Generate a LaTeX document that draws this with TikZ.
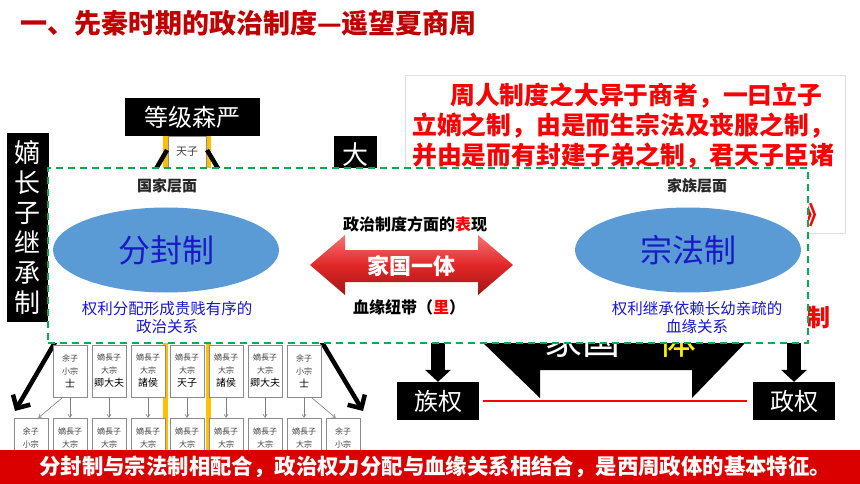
\documentclass[tikz,border=0pt]{standalone}
\usepackage{fontspec}
\setmainfont{Noto Sans CJK SC}
\usepackage{tikz}
\usetikzlibrary{positioning, arrows.meta, shapes.geometric}

\definecolor{titlered}{RGB}{192,0,0}
\definecolor{quotered}{RGB}{250,0,0}
\definecolor{bannerred}{RGB}{218,0,0}
\definecolor{ellblue}{RGB}{91,155,213}
\definecolor{textblue}{RGB}{25,25,200}
\definecolor{framegreen}{RGB}{0,176,80}
\definecolor{pyrgold}{RGB}{255,192,0}
\definecolor{arrowtop}{RGB}{245,115,115}
\definecolor{arrowmid}{RGB}{225,40,40}
\definecolor{arrowbot}{RGB}{165,20,20}

\newcommand{\fsz}[2]{\fontsize{#1pt}{#2pt}\selectfont}

\begin{document}
\begin{tikzpicture}[x=1pt, y=-1pt,
    blackbox/.style={fill=black, text=white, inner sep=0pt},
    smallbox/.style={draw=black!45, fill=white, text=black!75, inner sep=0pt, minimum width=34pt, align=center},
    toprow/.style={smallbox, minimum height=52pt, font=\fsz{8}{13}},
    lowrow/.style={smallbox, minimum height=40pt, font=\fsz{8}{13}},
    thinarrow/.style={-{Straight Barb[length=3pt, width=4pt]}, draw=black!50, line width=0.6pt},
    pyrarrow/.style={-{Straight Barb[length=10pt, width=20pt]}, line width=4.5pt},
    downarrow/.style={-{Triangle[length=12pt, width=26pt, line width=0pt]}, line width=14pt},
    quotetext/.style={anchor=west, text=quotered, font=\fsz{24.8}{24.8}\bfseries, inner sep=0pt},
    levelname/.style={font=\fsz{15}{15}\bfseries, text=black!85},
    desc/.style={font=\fsz{15.5}{18}, text=textblue, align=center},
    system/.style={ellipse, fill=ellblue, minimum width=226pt, minimum height=85pt, text=textblue, font=\fsz{32}{32}}
]
    \useasboundingbox (0,0) rectangle (860,484);
    \fill[white] (0,0) rectangle (860,484);

    % === Title ===
    \node[anchor=west, text=titlered, inner sep=0pt] (title) at (20,23) {\fontsize{27pt}{28pt}\selectfont\bfseries 一、先秦时期的政治制度—遥望夏商周};

    % === Quote (right) ===
    \node[draw=black!12, line width=0.8pt, minimum width=440pt, minimum height=158pt, inner sep=0pt] (quotebox) at (625,154) {};
    \node[quotetext] (q1) at (450,96) {周人制度之大异于商者，一曰立子};
    \node[quotetext] (q2) at (412,126) {立嫡之制，由是而生宗法及丧服之制，};
    \node[quotetext] (q3) at (412,156) {并由是而有封建子弟之制，君天子臣诸};
    \node[quotetext, anchor=east] (q4) at (829,215) {——王国维《殷周制度论》};

    % === Black labels ===
    \node[blackbox, minimum width=42pt, minimum height=189pt, align=center, font=\fsz{26}{30}] (heir) at (28,227.5) {嫡\\长\\子\\继\\承\\制};
    \node[blackbox, minimum width=135pt, minimum height=38pt, font=\fsz{24}{24}] (rank) at (192.5,117) {等级森严};
    \node[blackbox, minimum width=43pt, minimum height=38pt, font=\fsz{26}{26}] (da) at (355.5,155) {大};

    % === Pyramid ===
    \draw[pyrgold, line width=5pt] (165.5,136) -- (165.5,450);
    \draw[pyrgold, line width=5pt] (208.5,136) -- (208.5,450);
    \node[smallbox, minimum width=38pt, minimum height=32pt, font=\fsz{11}{11}] (tianzi) at (187,152) {天子};

    \coordinate (apexL) at (167,150);
    \coordinate (apexR) at (207,150);
    \coordinate (footL) at (15,411);
    \coordinate (footR) at (363,411);
    \draw[pyrarrow] (apexL) -- (footL);
    \draw[pyrarrow] (apexR) -- (footR);

    % top row
    \node[toprow] (t1) at (70,371)  {余子\\小宗\\{\fsz{10}{10}\color{black}士}};
    \node[toprow] (t2) at (109,371) {嫡長子\\大宗\\{\fsz{10}{10}\color{black}卿大夫}};
    \node[toprow] (t3) at (148,371) {嫡長子\\大宗\\{\fsz{10}{10}\color{black}諸侯}};
    \node[toprow] (t4) at (187,371) {嫡長子\\大宗\\{\fsz{10}{10}\color{black}天子}};
    \node[toprow] (t5) at (226,371) {嫡長子\\大宗\\{\fsz{10}{10}\color{black}諸侯}};
    \node[toprow] (t6) at (265,371) {嫡長子\\大宗\\{\fsz{10}{10}\color{black}卿大夫}};
    \node[toprow] (t7) at (304,371) {余子\\小宗\\{\fsz{10}{10}\color{black}士}};

    % lower row
    \node[lowrow] (b1) at (31,438)  {余子\\小宗};
    \node[lowrow] (b2) at (70,438)  {嫡長子\\大宗};
    \node[lowrow] (b3) at (109,438) {嫡長子\\大宗};
    \node[lowrow] (b4) at (148,438) {嫡長子\\大宗};
    \node[lowrow] (b5) at (187,438) {嫡長子\\大宗};
    \node[lowrow] (b6) at (226,438) {嫡長子\\大宗};
    \node[lowrow] (b7) at (265,438) {嫡長子\\大宗};
    \node[lowrow] (b8) at (304,438) {嫡長子\\大宗};
    \node[lowrow] (b9) at (343,438) {余子\\小宗};

    \draw[thinarrow] (t1.255) -- (b1.70);
    \draw[thinarrow] (t1.south) -- (b2.north);
    \draw[thinarrow] (t2.south) -- (b3.north);
    \draw[thinarrow] (t3.south) -- (b4.north);
    \draw[thinarrow] (t4.south) -- (b5.north);
    \draw[thinarrow] (t5.south) -- (b6.north);
    \draw[thinarrow] (t6.south) -- (b7.north);
    \draw[thinarrow] (t7.south) -- (b8.north);
    \draw[thinarrow] (t7.285) -- (b9.110);

    % === Family-state bracket (right, below) ===
    \fill[black] (449,310) -- (777,310) -- (692,398) -- (692,370) -- (540,370) -- (540,398) -- cycle;
    \node[text=white, font=\fsz{38}{38}, inner sep=0pt] (jgyt) at (620,340) {家国一\textcolor{yellow}{体}};

    \node[blackbox, minimum width=82pt, minimum height=38pt, font=\fsz{24}{24}] (zuquan) at (438,401) {族权};
    \node[blackbox, minimum width=82pt, minimum height=38pt, font=\fsz{24}{24}] (zhengquan) at (794,401) {政权};
    \coordinate (zuTop) at (438,330);
    \coordinate (zhTop) at (794,330);
    \draw[downarrow] (zuTop) -- (zuquan.north);
    \draw[downarrow] (zhTop) -- (zhengquan.north);
    \draw[red, line width=2pt, shorten <=4pt, shorten >=6pt] (zuquan.east) -- (zhengquan.west);

    \node[text=quotered, font=\fsz{24}{24}\bfseries, inner sep=0pt, anchor=east] (zhi) at (831,317) {制};

    % === Dashed frame ===
    \node[draw=framegreen, dash pattern=on 7pt off 5pt, line width=1.6pt, fill=white, minimum width=760pt, minimum height=175pt, inner sep=0pt] (frame) at (428,255.5) {};

    \node[levelname] (guojia) at (167,186) {国家层面};
    \node[system] (fenfeng) at (166,250) {分封制};
    \node[desc] (fenfengdesc) at (167,318) {权利分配形成贵贱有序的\\政治关系};

    \node[levelname] (jiazu) at (697,186) {家族层面};
    \node[system] (zongfa) at (688,250) {宗法制};
    \node[desc] (zongfadesc) at (697,318) {权利继承依赖长幼亲疏的\\血缘关系};

    % double arrow
    \shade[top color=arrowtop, bottom color=arrowbot, middle color=arrowmid]
        (310,265) -- (345,235) -- (345,250) -- (478,250) -- (478,235) -- (513,265)
        -- (478,295) -- (478,282) -- (345,282) -- (345,295) -- cycle;
    \node[text=white, font=\fsz{22}{22}\bfseries] (jiaguo) at (411.5,266) {家国一体};
    \node[font=\fsz{16}{16}\bfseries] (biao) at (415,224) {政治制度方面的\textcolor{red}{表}现};
    \node[font=\fsz{16}{16}\bfseries] (li) at (409,307) {血缘纽带（\textcolor{red}{里}）};

    % === Bottom banner ===
    \node[fill=bannerred, minimum width=860pt, minimum height=34pt, inner sep=0pt, anchor=north west, text=white, font=\fsz{21.4}{21.4}\bfseries] (banner) at (0,450) {\hspace*{10pt}分封制与宗法制相配合，政治权力分配与血缘关系相结合，是西周政体的基本特征。};

\end{tikzpicture}
\end{document}
